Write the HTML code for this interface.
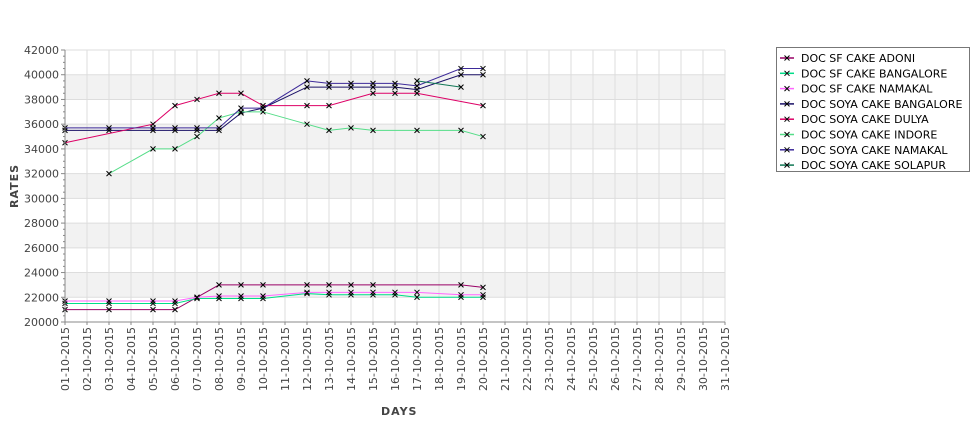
<!DOCTYPE html>
<html><head><meta charset="utf-8"><style>
body{margin:0;background:#fff;font-family:"Liberation Sans","DejaVu Sans",sans-serif}
svg text{font-family:"DejaVu Sans","Liberation Sans",sans-serif;font-size:11px;fill:#444}
</style></head><body>
<svg id="chart" width="975" height="429">
<g id="grid"></g>
<g id="series"></g>
<g id="axes"></g>
<text x="381" y="415" style="font-size:11px;font-weight:bold;letter-spacing:1px" fill="#444">DAYS</text>
<text transform="translate(18,186) rotate(-90)" text-anchor="middle" style="font-size:11px;font-weight:bold;letter-spacing:1px">RATES</text>
<g id="legend"></g>
</svg>
<script>
const days=[1,3,5,6,7,8,9,10,12,13,14,15,16,17,19,20];
const seriesNames=["DOC SF CAKE ADONI","DOC SF CAKE BANGALORE","DOC SF CAKE NAMAKAL","DOC SOYA CAKE BANGALORE","DOC SOYA CAKE DULYA","DOC SOYA CAKE INDORE","DOC SOYA CAKE NAMAKAL","DOC SOYA CAKE SOLAPUR"];
const colors=["#990066","#00dd88","#ff66ff","#1a1066","#dd0066","#55dd88","#3d2a99","#117755"];
const sfAdoni=[21000,21000,21000,21000,22000,23000,23000,23000,23000,23000,23000,23000,null,null,23000,22800];
const sfBangalore=[21500,21500,21500,21500,21900,21900,21900,21900,22300,22200,22200,22200,22200,22000,22000,22000];
const sfNamakal=[21700,21700,21700,21700,22000,22100,22100,22100,22400,22400,22400,22400,22400,22400,22200,22200];
const soyaBangalore=[35500,35500,35500,35500,35500,35500,36900,37300,39000,39000,39000,39000,39000,38800,40000,40000];
const soyaDulya=[34500,null,36000,37500,38000,38500,38500,37500,37500,37500,null,38500,38500,38500,null,37500];
const soyaIndore=[null,32000,34000,34000,35000,36500,37000,37000,36000,35500,35700,35500,null,35500,35500,35000];
const soyaNamakal=[35700,35700,35700,35700,35700,35700,37300,37300,39500,39300,39300,39300,39300,39100,40500,40500];
const soyaSolapur=[null,null,null,null,null,null,null,null,null,null,null,null,null,39500,39000,null];
const allSeries=[sfAdoni,sfBangalore,sfNamakal,soyaBangalore,soyaDulya,soyaIndore,soyaNamakal,soyaSolapur];
const yTicks=[20000,22000,24000,26000,28000,30000,32000,34000,36000,38000,40000,42000];
const xLabels=[];for(let d=1;d<=31;d++)xLabels.push(String(d).padStart(2,"0")+"-10-2015");

const X0=65,X1=725,Y0=322,Y1=50,YMIN=20000,YMAX=42000;
const xs=d=>X0+(d-1)*(X1-X0)/30;
const ys=v=>Y0-(v-YMIN)*(Y0-Y1)/(YMAX-YMIN);
const NS="http://www.w3.org/2000/svg";
function mk(tag,attrs,parent){const e=document.createElementNS(NS,tag);for(const k in attrs)e.setAttribute(k,attrs[k]);parent.appendChild(e);return e;}
const grid=document.getElementById("grid"),axes=document.getElementById("axes"),ser=document.getElementById("series"),leg=document.getElementById("legend");
for(let i=0;i<yTicks.length-1;i++){if(i%2===1){const b=mk("rect",{x:X0,y:ys(yTicks[i+1]),width:X1-X0,height:ys(yTicks[i])-ys(yTicks[i+1]),fill:"#f2f2f2"},grid);

}}
yTicks.forEach(v=>{const l=mk("line",{x1:X0,x2:X1,y1:ys(v),y2:ys(v),stroke:"#ddd"},grid);


mk("line",{x1:X0-4,x2:X0,y1:ys(v),y2:ys(v),stroke:"#888"},axes);
const t=mk("text",{x:X0-6,y:ys(v)+4,"text-anchor":"end"},axes);t.textContent=v;

});
for(let v=YMIN+500;v<YMAX;v+=500){if(v%2000)mk("line",{x1:X0-2,x2:X0,y1:ys(v),y2:ys(v),stroke:"#888"},axes);}
xLabels.forEach((s,i)=>{const x=xs(i+1);
const l=mk("line",{x1:x,x2:x,y1:Y1,y2:Y0,stroke:"#ddd"},grid);


mk("line",{x1:x,x2:x,y1:Y0,y2:Y0+3,stroke:"#888"},axes);
const t=mk("text",{transform:`translate(${x+4},327) rotate(-90)`,"text-anchor":"end"},axes);t.textContent=s;

});
mk("line",{x1:X0,x2:X0,y1:Y1,y2:Y0,stroke:"#888"},axes);
mk("line",{x1:X0,x2:X1,y1:Y0,y2:Y0,stroke:"#888"},axes);
function cross(x,y,p){const g=mk("path",{d:`M${x-2.5},${y-2.5}L${x+2.5},${y+2.5}M${x-2.5},${y+2.5}L${x+2.5},${y-2.5}`,stroke:"#000","stroke-width":1},p);return g;}
allSeries.forEach((arr,si)=>{let pts=[];arr.forEach((v,i)=>{if(v!==null)pts.push([xs(days[i]),ys(v)]);});
const pl=mk("polyline",{points:pts.map(p=>p.join(",")).join(" "),fill:"none",stroke:colors[si],"stroke-width":1},ser);


pts.forEach(p=>{const c=cross(p[0],p[1],ser);

});});
const lb=mk("rect",{x:776.5,y:47.5,width:193,height:124,fill:"#fff",stroke:"#777"},leg);


seriesNames.forEach((n,i)=>{const y=58+i*15.3;
const g=mk("g",{},leg);


mk("line",{x1:780,x2:794,y1:y,y2:y,stroke:colors[i],"stroke-width":1.5},g);
cross(787,y,g);
const t=mk("text",{x:801,y:y+4},g);t.textContent=n;t.style.fill="#000";});
</script>
</body></html>
